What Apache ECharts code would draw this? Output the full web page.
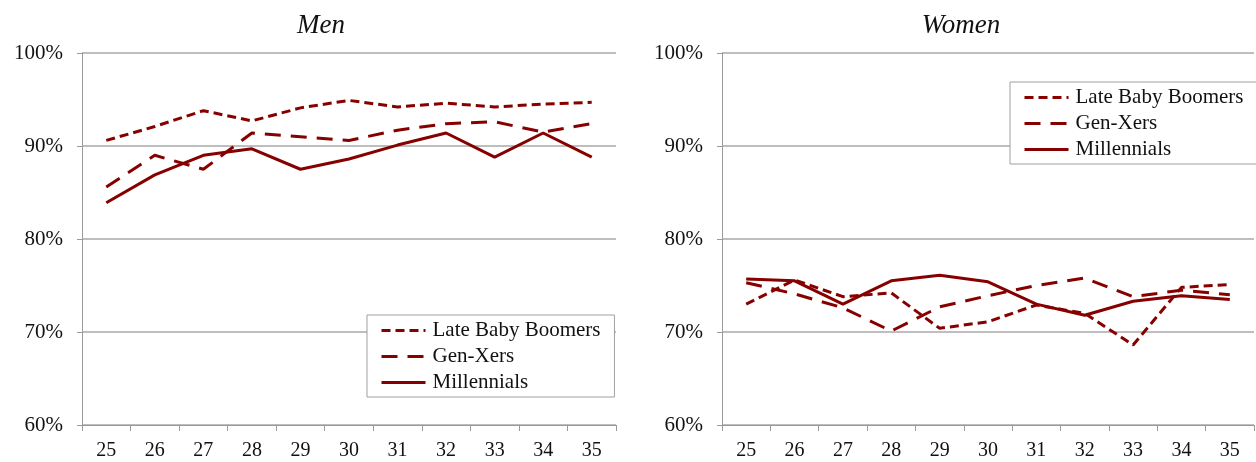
<!DOCTYPE html>
<html>
<head>
<meta charset="utf-8" />
<title>Men / Women</title>
<script src="https://cdn.jsdelivr.net/npm/echarts@6/dist/echarts.min.js"></script>
</head>
<body style="margin:0;background:#fff;">
<div id="main" style="width:1256px;height:462px;"></div>
<script>
var ages = ['25','26','27','28','29','30','31','32','33','34','35'];
var yTicks = [60, 70, 80, 90, 100];

// percent of age group
var menBoomers   = [90.6, 92.1, 93.8, 92.7, 94.1, 94.9, 94.2, 94.6, 94.2, 94.5, 94.7];
var menGenX      = [85.6, 89.0, 87.5, 91.4, 91.0, 90.6, 91.7, 92.4, 92.6, 91.5, 92.4];
var menMill      = [83.9, 86.9, 89.0, 89.7, 87.5, 88.6, 90.1, 91.4, 88.8, 91.4, 88.8];

var womenBoomers = [73.0, 75.6, 73.8, 74.2, 70.4, 71.1, 72.9, 72.0, 68.6, 74.8, 75.1];
var womenGenX    = [75.3, 74.1, 72.6, 70.1, 72.7, 73.9, 75.0, 75.8, 73.8, 74.5, 74.0];
var womenMill    = [75.7, 75.5, 73.0, 75.5, 76.1, 75.4, 73.0, 71.8, 73.3, 73.9, 73.5];

var names = ['Late Baby Boomers', 'Gen-Xers', 'Millennials'];
var dashes = [[9, 5], [16, 10], 'solid'];
var red = '#860000';
var font = '"Liberation Serif", "DejaVu Serif", serif';

function xAxis(idx) {
    return {
        type: 'category', gridIndex: idx, data: ages, boundaryGap: true,
        axisLine: { lineStyle: { color: '#9a9a9a', width: 1 } },
        axisTick: { show: true, length: 6, lineStyle: { color: '#9a9a9a' } },
        axisLabel: { color: '#111', fontFamily: font, fontSize: 20, margin: 16 }
    };
}
function yAxis(idx) {
    return {
        type: 'value', gridIndex: idx, min: yTicks[0], max: yTicks[yTicks.length - 1], interval: 10,
        axisLine: { show: true, lineStyle: { color: '#9a9a9a', width: 1 } },
        axisTick: { show: true, length: 5, lineStyle: { color: '#9a9a9a' } },
        splitLine: { lineStyle: { color: '#a8a8a8', width: 1.5 } },
        axisLabel: { color: '#111', fontFamily: font, fontSize: 21, margin: 19, formatter: '{value}%' }
    };
}
function series(idx, data, k) {
    return {
        name: names[k], type: 'line', xAxisIndex: idx, yAxisIndex: idx,
        data: data, symbol: 'none', animation: false,
        lineStyle: { color: red, width: 3, type: dashes[k] },
        itemStyle: { color: red }
    };
}
function legend(pos) {
    return Object.assign({
        data: names, orient: 'vertical', itemWidth: 44, itemHeight: 20, itemGap: 5,
        backgroundColor: '#fff', borderColor: '#a0a0a0', borderWidth: 1, borderRadius: 0,
        padding: [5, 14, 4, 13], selectedMode: false,
        itemStyle: { opacity: 0 },
        lineStyle: { width: 3 },
        textStyle: { color: '#111', fontFamily: font, fontSize: 21, padding: [0, 0, 0, 2] }
    }, pos);
}

var chart = echarts.init(document.getElementById('main'));
chart.setOption({
    animation: false,
    title: [
        { text: 'Men', left: 316, top: 7, textAlign: 'center',
          textStyle: { fontFamily: font, fontStyle: 'italic', fontWeight: 'normal', fontSize: 27, color: '#111' } },
        { text: 'Women', left: 956, top: 7, textAlign: 'center',
          textStyle: { fontFamily: font, fontStyle: 'italic', fontWeight: 'normal', fontSize: 27, color: '#111' } }
    ],
    legend: [
        legend({ left: 367, top: 315 }),
        legend({ left: 1010, top: 82 })
    ],
    grid: [
        { left: 82, top: 53, width: 534, height: 372 },
        { left: 722, top: 53, width: 532, height: 372 }
    ],
    xAxis: [xAxis(0), xAxis(1)],
    yAxis: [yAxis(0), yAxis(1)],
    series: [
        series(0, menBoomers, 0), series(0, menGenX, 1), series(0, menMill, 2),
        series(1, womenBoomers, 0), series(1, womenGenX, 1), series(1, womenMill, 2)
    ]
});
</script>
</body>
</html>
